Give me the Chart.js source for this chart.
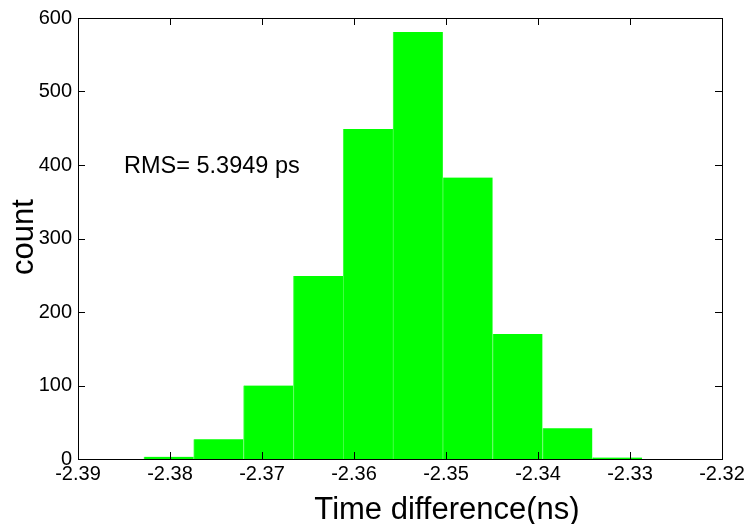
<!DOCTYPE html>
<html>
<head>
<meta charset="utf-8">
<script src="https://cdn.jsdelivr.net/npm/chart.js@4"></script>
<style>
  html, body { margin: 0; padding: 0; background: #fff; }
  #wrap { width: 750px; height: 524px; }
</style>
</head>
<body>
<div id="wrap"><canvas id="hist"></canvas></div>
<script>
// histogram bins (centres in ns) and their counts
const binCenters = [-2.38013, -2.37472, -2.36930, -2.36388, -2.35847,
                    -2.35305, -2.34764, -2.34222, -2.33680, -2.33139];
const counts = [3, 27, 100, 249, 449, 581, 383, 170, 42, 2];
const xTicks = [-2.39, -2.38, -2.37, -2.36, -2.35, -2.34, -2.33, -2.32];
const yTicks = [0, 100, 200, 300, 400, 500, 600];
const rmsText = 'RMS= 5.3949 ps';

const FONT = '"Liberation Sans", Arial, sans-serif';

// box frame with inward ticks on all four sides, plus axis titles and the RMS note
const framePlugin = {
  id: 'frame',
  afterDraw(chart) {
    const { ctx, chartArea: a, scales } = chart;
    ctx.save();
    ctx.strokeStyle = '#000';
    ctx.lineWidth = 1;
    ctx.strokeRect(a.left + 0.5, a.top + 0.5, a.right - a.left, a.bottom - a.top);
    const len = 7;
    ctx.beginPath();
    xTicks.forEach(v => {
      const x = Math.round(scales.x.getPixelForValue(v)) + 0.5;
      ctx.moveTo(x, a.bottom); ctx.lineTo(x, a.bottom - len);
      ctx.moveTo(x, a.top); ctx.lineTo(x, a.top + len);
    });
    yTicks.forEach(v => {
      const y = Math.round(scales.y.getPixelForValue(v)) + 0.5;
      ctx.moveTo(a.left, y); ctx.lineTo(a.left + len, y);
      ctx.moveTo(a.right, y); ctx.lineTo(a.right - len, y);
    });
    ctx.stroke();

    ctx.fillStyle = '#000';
    ctx.font = '23.5px ' + FONT;
    ctx.textAlign = 'left';
    ctx.textBaseline = 'alphabetic';
    ctx.fillText(rmsText, 124, 173);

    ctx.font = '31px ' + FONT;
    ctx.textAlign = 'center';
    ctx.fillText('Time difference(ns)', 447, 519);

    ctx.translate(33, 237);
    ctx.rotate(-Math.PI / 2);
    ctx.fillText('count', 0, 0);
    ctx.restore();
  }
};

new Chart(document.getElementById('hist'), {
  type: 'bar',
  data: {
    datasets: [{
      data: binCenters.map((x, i) => ({ x: x, y: counts[i] })),
      backgroundColor: '#00ff00',
      borderColor: '#4cff4c',
      borderWidth: { left: 1 },
      barPercentage: 1.0,
      categoryPercentage: 1.0
    }]
  },
  options: {
    responsive: true,
    maintainAspectRatio: false,
    animation: false,
    layout: { padding: { top: 15, right: 28, left: 0, bottom: 0 } },
    plugins: { legend: { display: false }, tooltip: { enabled: false } },
    scales: {
      x: {
        type: 'linear',
        offset: false,
        min: -2.39,
        max: -2.32,
        afterBuildTicks: s => { s.ticks = xTicks.map(v => ({ value: v })); },
        afterFit: s => { s.height = 65; },
        grid: { display: false, drawTicks: false, offset: false },
        border: { display: false },
        ticks: {
          color: '#000',
          font: { family: FONT, size: 20 },
          padding: 3,
          maxRotation: 0,
          autoSkip: false,
          callback: v => v.toFixed(2)
        }
      },
      y: {
        min: 0,
        max: 600,
        afterBuildTicks: s => { s.ticks = yTicks.map(v => ({ value: v })); },
        afterFit: s => { s.width = 78; },
        grid: { display: false, drawTicks: false },
        border: { display: false },
        ticks: {
          color: '#000',
          font: { family: FONT, size: 20 },
          padding: 6
        }
      }
    }
  },
  plugins: [framePlugin]
});
</script>
</body>
</html>
